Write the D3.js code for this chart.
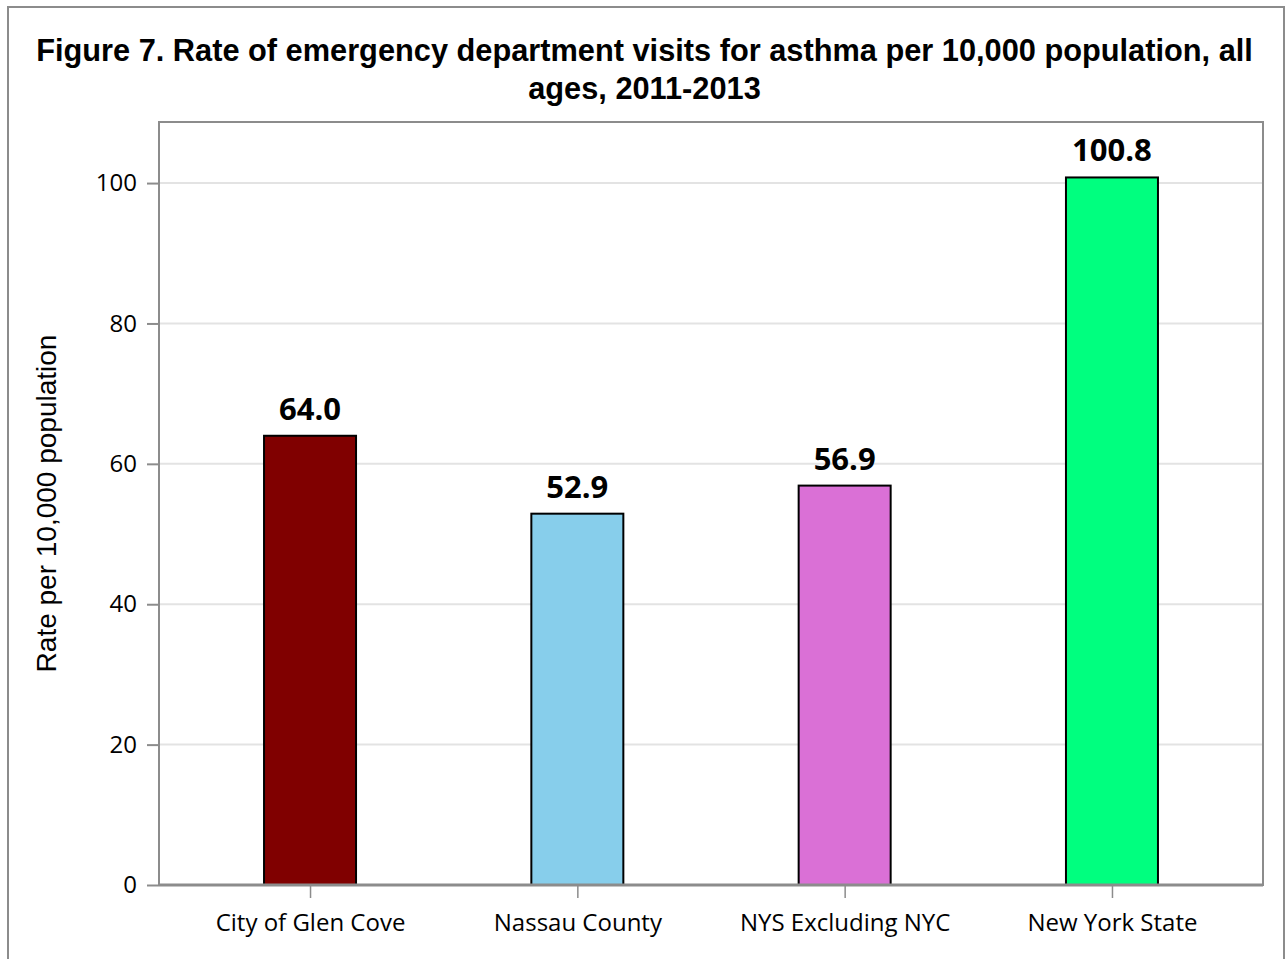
<!DOCTYPE html>
<html><head><meta charset="utf-8">
<script src="https://cdn.jsdelivr.net/npm/d3@7"></script>
<style>body{margin:0;background:#fff}svg{display:block}</style>
</head><body>
<script>
const categories = ["City of Glen Cove", "Nassau County", "NYS Excluding NYC", "New York State"];
const values = [64.0, 52.9, 56.9, 100.8];
const colors = ["#800000", "#87CEEB", "#DA70D6", "#00FF7F"];
const yTicks = [0, 20, 40, 60, 80, 100];
const titleLines = ["Figure 7. Rate of emergency department visits for asthma per 10,000 population, all", "ages, 2011-2013"];
const yTitle = "Rate per 10,000 population";

const W = 1286, H = 959;
const svg = d3.select("body").append("svg").attr("width", W).attr("height", H);
svg.append("rect").attr("x", 8).attr("y", 7).attr("width", 1276).attr("height", 960)
  .attr("fill", "#fff").attr("stroke", "#8c8c8c").attr("stroke-width", 2);

const m = {l: 159, t: 122, r: 1263, b: 885};
const y = d3.scaleLinear().domain([0, 108.7]).range([m.b, m.t]);
const x = d3.scalePoint().domain(categories).range([m.l, m.r]).padding(0.565);
const bw = 92;
const sans = "'Open Sans', 'Noto Sans', sans-serif";

svg.append("g").selectAll("text").data(titleLines).join("text")
  .attr("x", 644.5).attr("y", (d, i) => 60.5 + i * 38)
  .attr("text-anchor", "middle").attr("font-family", "'Liberation Sans', Arial, sans-serif")
  .attr("font-weight", "bold").attr("font-size", 30.75).attr("fill", "#000").text(d => d);

// gridlines
svg.append("g").selectAll("line").data(yTicks.filter(d => d > 0)).join("line")
  .attr("x1", m.l).attr("x2", m.r).attr("y1", d => y(d)).attr("y2", d => y(d))
  .attr("stroke", "#e3e3e3").attr("stroke-width", 2);

// plot frame
svg.append("rect").attr("x", m.l).attr("y", m.t).attr("width", m.r - m.l).attr("height", m.b - m.t)
  .attr("fill", "none").attr("stroke", "#8c8c8c").attr("stroke-width", 2);

// y axis
const yAxis = d3.axisLeft(y).tickValues(yTicks).tickSize(12).tickPadding(10).tickFormat(d3.format("d"));
const gy = svg.append("g").attr("transform", `translate(${m.l},0)`).call(yAxis);
gy.select(".domain").remove();
gy.selectAll(".tick line").attr("stroke", "#8c8c8c").attr("stroke-width", 2);
gy.selectAll(".tick text").attr("font-family", sans).attr("font-size", 24).attr("fill", "#000");

// bars
svg.append("g").selectAll("rect").data(values).join("rect")
  .attr("x", (d, i) => x(categories[i]) - bw / 2).attr("width", bw)
  .attr("y", d => y(d)).attr("height", d => y(0) - y(d))
  .attr("fill", (d, i) => colors[i]).attr("stroke", "#000").attr("stroke-width", 2);

// value labels
svg.append("g").selectAll("text").data(values).join("text")
  .attr("x", (d, i) => x(categories[i])).attr("y", d => y(d) - 16)
  .attr("text-anchor", "middle").attr("font-family", sans)
  .attr("font-weight", "bold").attr("font-size", 31).attr("fill", "#000")
  .text(d => d.toFixed(1));

// x axis
const xAxis = d3.axisBottom(x).tickSize(13).tickPadding(16);
const gx = svg.append("g").attr("transform", `translate(0,${m.b})`).call(xAxis);
gx.select(".domain").attr("d", `M${m.l},0H${m.r}`).attr("stroke", "#8c8c8c").attr("stroke-width", 3);
gx.selectAll(".tick line").attr("stroke", "#8c8c8c").attr("stroke-width", 1.5);
gx.selectAll(".tick text").attr("font-family", sans).attr("font-size", 24).attr("fill", "#000");

// y title
svg.append("text").attr("transform", `translate(56,${(m.t + m.b) / 2}) rotate(-90)`)
  .attr("text-anchor", "middle").attr("font-family", "'Liberation Sans', Arial, sans-serif")
  .attr("font-size", 28).attr("fill", "#000").text(yTitle);
</script>
</body></html>
